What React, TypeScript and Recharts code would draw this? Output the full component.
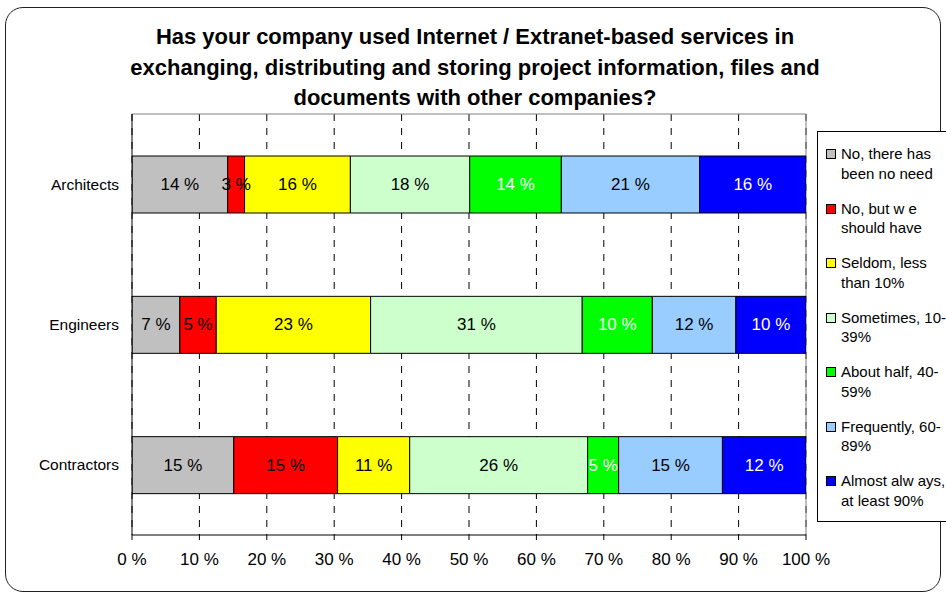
import React from 'react';
import { BarChart, Bar, XAxis, YAxis, CartesianGrid, LabelList, Legend } from 'recharts';

const categories = ['Architects', 'Engineers', 'Contractors'];

const noNeed = [14.2, 7.1, 15.1];
const shouldHave = [2.5, 5.4, 15.4];
const seldom = [15.7, 22.9, 10.7];
const sometimes = [17.7, 31.4, 26.4];
const aboutHalf = [13.6, 10.4, 4.6];
const frequently = [20.5, 12.4, 15.4];
const almostAlways = [15.8, 10.4, 12.4];

const seriesKeys = ['noNeed', 'shouldHave', 'seldom', 'sometimes', 'aboutHalf', 'frequently', 'almostAlways'];
const seriesValues = [noNeed, shouldHave, seldom, sometimes, aboutHalf, frequently, almostAlways];
const seriesNames = [
  'No, there has been no need',
  'No, but w e should have',
  'Seldom, less than 10%',
  'Sometimes, 10-39%',
  'About half, 40-59%',
  'Frequently, 60-89%',
  'Almost alw ays, at least 90%',
];
const legendLines = [
  ['No, there has', 'been no need'],
  ['No, but w e', 'should have'],
  ['Seldom, less', 'than 10%'],
  ['Sometimes, 10-', '39%'],
  ['About half, 40-', '59%'],
  ['Frequently, 60-', '89%'],
  ['Almost alw ays,', 'at least 90%'],
];
const seriesColors = ['#C0C0C0', '#FF0000', '#FFFF00', '#CCFFCC', '#00FF00', '#99CCFF', '#0000FF'];
const labelColors = ['#000', '#000', '#000', '#000', '#fff', '#000', '#fff'];

const xTicks = [0, 10, 20, 30, 40, 50, 60, 70, 80, 90, 100];
const titleLines = [
  'Has your company used Internet / Extranet-based services in',
  'exchanging, distributing and storing project information, files and',
  'documents with other companies?',
];

const data = categories.map((name, i) => {
  const row: Record<string, any> = { name };
  seriesKeys.forEach((k, j) => {
    row[k] = seriesValues[j][i];
  });
  return row;
});

const FONT = '"Liberation Sans", Arial, sans-serif';

const makeLabel = (color: string) => (props: any) => {
  const vb = props.viewBox && props.viewBox.width !== undefined ? props.viewBox : props;
  const x = Number(vb.x) + Number(vb.width) / 2;
  const y = Number(vb.y) + Number(vb.height) / 2;
  return (
    <text
      x={x}
      y={y}
      textAnchor="middle"
      dominantBaseline="central"
      fill={color}
      fontSize={17}
      fontFamily={FONT}
    >
      {`${Math.round(Number(props.value))} %`}
    </text>
  );
};

const LegendBox = () => (
  <div
    style={{
      position: 'absolute',
      left: 817,
      top: 131,
      width: 140,
      height: 391,
      boxSizing: 'border-box',
      border: '1px solid #000',
      background: '#fff',
      paddingTop: 12,
      fontFamily: FONT,
      fontSize: 15,
      color: '#000',
    }}
  >
    {legendLines.map((lines, i) => (
      <div key={i} style={{ display: 'flex', alignItems: 'flex-start', height: 54.5 }}>
        <div
          style={{
            width: 8,
            height: 8,
            border: '1px solid #000',
            background: seriesColors[i],
            marginLeft: 8,
            marginTop: 5,
            flex: 'none',
          }}
        />
        <div style={{ marginLeft: 5, lineHeight: '19.5px', whiteSpace: 'nowrap' }}>
          {lines[0]}
          <br />
          {lines[1]}
        </div>
      </div>
    ))}
  </div>
);

export default function App() {
  return (
    <div
      style={{
        position: 'absolute',
        left: 0,
        top: 0,
        width: 946,
        height: 593,
        overflow: 'hidden',
        background: '#fff',
        fontFamily: FONT,
      }}
    >
      <div
        style={{
          position: 'absolute',
          left: 5,
          top: 7,
          width: 936,
          height: 585,
          boxSizing: 'border-box',
          border: '1px solid #222',
          borderRadius: 18,
        }}
      />
      <div
        style={{
          position: 'absolute',
          left: 0,
          top: 22,
          width: 950,
          textAlign: 'center',
          fontWeight: 'bold',
          fontSize: 22,
          lineHeight: '30.5px',
          color: '#000',
        }}
      >
        {titleLines.map((t, i) => (
          <div key={i}>{t}</div>
        ))}
      </div>
      <div style={{ position: 'absolute', left: 0, top: 0 }}>
        <BarChart
          width={946}
          height={593}
          data={data}
          layout="vertical"
          margin={{ top: 114, right: 140, left: 0, bottom: 0 }}
        >
          <CartesianGrid horizontal={false} stroke="#000" strokeDasharray="7 7" />
          <CartesianGrid
            stroke="#808080"
            horizontalCoordinatesGenerator={({ offset }: any) => [offset.top]}
            verticalCoordinatesGenerator={({ offset }: any) => [offset.left + offset.width]}
          />
          <XAxis
            type="number"
            domain={[0, 100]}
            ticks={xTicks}
            tickFormatter={(v: number) => `${v} %`}
            axisLine={{ stroke: '#000' }}
            tickLine={{ stroke: '#000' }}
            tickSize={5}
            tickMargin={13}
            height={58}
            tick={{ fill: '#000', fontSize: 17, fontFamily: FONT }}
            allowDataOverflow
          />
          <YAxis
            type="category"
            dataKey="name"
            width={132}
            axisLine={{ stroke: '#000' }}
            tickLine={false}
            tickSize={0}
            tickMargin={13}
            tick={{ fill: '#000', fontSize: 15.5, fontFamily: FONT }}
          />
          <Legend
            layout="vertical"
            align="center"
            verticalAlign="middle"
            content={() => <LegendBox />}
            wrapperStyle={{ position: 'absolute', left: 0, top: 0, width: 0, height: 0 }}
          />
          {seriesKeys.map((k, j) => (
            <Bar
              key={k}
              dataKey={k}
              name={seriesNames[j]}
              stackId="a"
              fill={seriesColors[j]}
              stroke="#000"
              strokeWidth={1}
              barSize={57}
              isAnimationActive={false}
            >
              <LabelList dataKey={k} content={makeLabel(labelColors[j])} />
            </Bar>
          ))}
        </BarChart>
      </div>
    </div>
  );
}
